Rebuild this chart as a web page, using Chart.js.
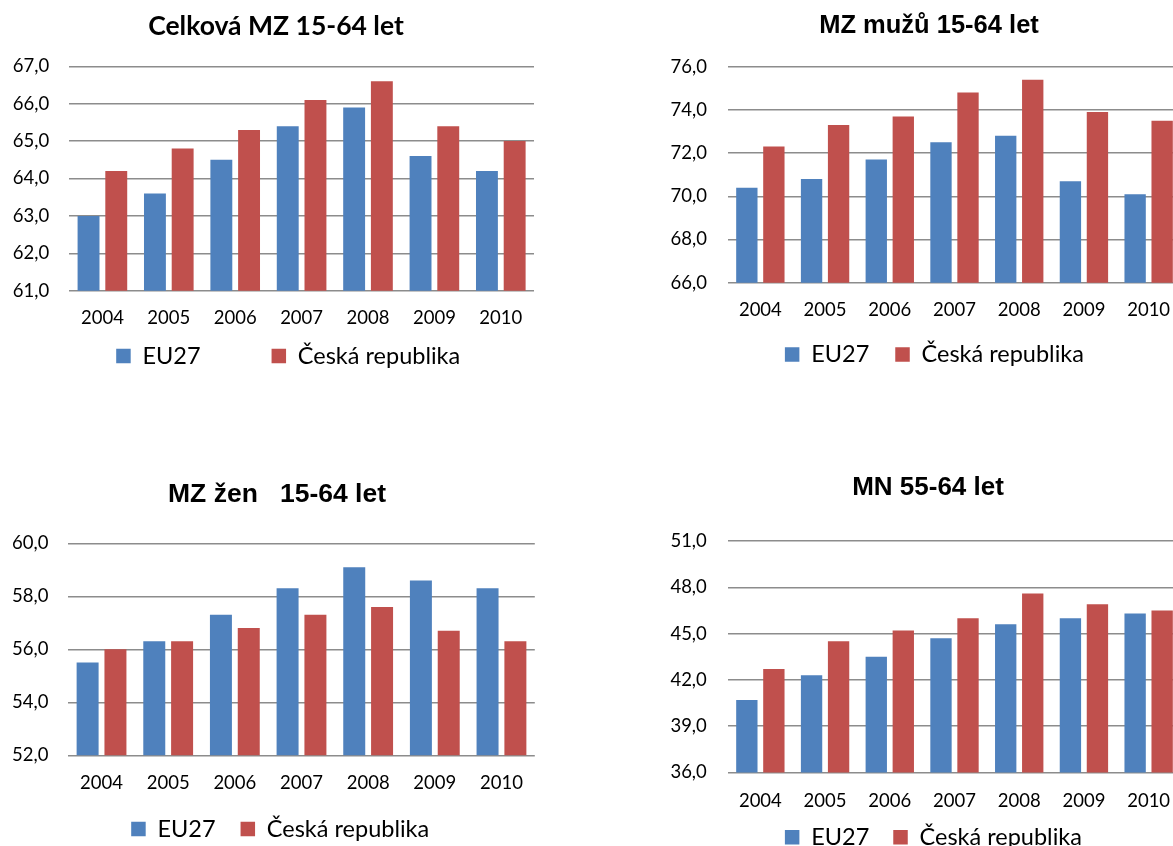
<!DOCTYPE html>
<html>
<head>
<meta charset="utf-8">
<script src="https://cdn.jsdelivr.net/npm/chart.js@4.4.1/dist/chart.umd.min.js"></script>
<style>
    html, body { margin: 0; padding: 0; background: #fff; width: 1173px; height: 846px; overflow: hidden; }
    canvas { position: absolute; }
</style>
</head>
<body>
<canvas id="c1" width="552" height="431" style="left:0px;top:0px"></canvas>
<canvas id="c2" width="540" height="380" style="left:660px;top:0px"></canvas>
<canvas id="c3" width="552" height="392" style="left:0px;top:460px"></canvas>
<canvas id="c4" width="540" height="410" style="left:660px;top:460px"></canvas>
<script>
// Data
const years = ['2004', '2005', '2006', '2007', '2008', '2009', '2010'];
const seriesNames = ['EU27', 'Česká republika'];

const celkovaEU = [63.0, 63.6, 64.5, 65.4, 65.9, 64.6, 64.2];
const celkovaCR = [64.2, 64.8, 65.3, 66.1, 66.6, 65.4, 65.0];

const muziEU = [70.4, 70.8, 71.7, 72.5, 72.8, 70.7, 70.1];
const muziCR = [72.3, 73.3, 73.7, 74.8, 75.4, 73.9, 73.5];

const zenyEU = [55.5, 56.3, 57.3, 58.3, 59.1, 58.6, 58.3];
const zenyCR = [56.0, 56.3, 56.8, 57.3, 57.6, 56.7, 56.3];

const starsiEU = [40.7, 42.3, 43.5, 44.7, 45.6, 46.0, 46.3];
const starsiCR = [42.7, 44.5, 45.2, 46.0, 47.6, 46.9, 46.5];

// y axis: min, max, step
const celkovaAxis = [61, 67, 1];
const muziAxis = [66, 76, 2];
const zenyAxis = [52, 60, 2];
const starsiAxis = [36, 51, 3];

const titles = ['Celková MZ 15-64 let', 'MZ mužů 15-64 let', 'MZ žen   15-64 let', 'MN 55-64 let'];

const blue = '#4F81BD';
const red = '#C0504D';
const gridColor = '#8c8c8c';
const xAxisHeight = 40;

// moves title / legend after layout
const nudge = {
    id: 'nudge',
    afterLayout(chart, args, opts) {
        const t = chart.titleBlock;
        const l = chart.legend;
        if (t && opts.titleDx) {
            t.left += opts.titleDx;
            t.right += opts.titleDx;
        }
        if (l) {
            l.left += opts.legendDx || 0;
            l.right += opts.legendDx || 0;
            l.top += opts.legendDy || 0;
            l.bottom += opts.legendDy || 0;
        }
    }
};

function makeChart(id, cfg) {
    const canvas = document.getElementById(id);
    // legend box takes what is left under the x axis
    const legendHeight = canvas.height - cfg.plotBottom - xAxisHeight;
    return new Chart(canvas.getContext('2d'), {
        type: 'bar',
        data: {
            labels: years,
            datasets: [
                { label: seriesNames[0], data: cfg.eu, backgroundColor: blue, borderWidth: 0 },
                { label: seriesNames[1], data: cfg.cr, backgroundColor: red, borderWidth: 0 }
            ]
        },
        options: {
            responsive: false,
            animation: false,
            devicePixelRatio: 1,
            datasets: { bar: { barPercentage: 0.79, categoryPercentage: 0.835 } },
            layout: { padding: { left: 0, right: cfg.padRight, top: 0, bottom: 0 } },
            scales: {
                x: {
                    grid: { display: false, drawTicks: false },
                    border: { display: false },
                    ticks: { color: '#000', padding: cfg.xPad, font: { family: 'Lato', size: 18.5 } },
                    afterFit: function(scale) { scale.height = xAxisHeight; }
                },
                y: {
                    min: cfg.axis[0],
                    max: cfg.axis[1],
                    grid: { color: gridColor, lineWidth: 1.5, drawTicks: false },
                    border: { display: false },
                    ticks: {
                        stepSize: cfg.axis[2],
                        color: '#000',
                        padding: cfg.yPad,
                        font: { family: 'Lato', size: 18.5 },
                        callback: v => v.toFixed(1).replace('.', ',')
                    },
                    afterFit: function(scale) { scale.width = cfg.yWidth; }
                }
            },
            plugins: {
                title: {
                    display: true,
                    text: cfg.title,
                    color: '#000',
                    font: cfg.titleFont,
                    padding: cfg.titlePad
                },
                legend: {
                    position: 'bottom',
                    maxHeight: legendHeight,
                    labels: {
                        color: '#000',
                        boxWidth: 14.5,
                        boxHeight: 14.5,
                        padding: cfg.legendPad,
                        font: { family: 'Lato', size: 23.5 }
                    }
                },
                tooltip: { enabled: false },
                nudge: { titleDx: cfg.titleDx, legendDx: cfg.legendDx, legendDy: cfg.legendDy }
            }
        },
        plugins: [nudge]
    });
}

makeChart('c1', {
    eu: celkovaEU, cr: celkovaCR, axis: celkovaAxis, title: titles[0],
    titleFont: { family: 'Lato', size: 26.5, weight: 'bold' },
    titlePad: { top: 10.1, bottom: 24.4 },
    plotBottom: 290.7,
    padRight: 18, yWidth: 69.2, yPad: 20, xPad: 16.5,
    legendPad: 71, titleDx: 9, legendDx: 21.2, legendDy: -57.45
});

makeChart('c2', {
    eu: muziEU, cr: muziCR, axis: muziAxis, title: titles[1],
    titleFont: { family: 'Liberation Sans', size: 25.5, weight: 'bold' },
    titlePad: { top: 10.4, bottom: 25.7 },
    plotBottom: 282.7,
    padRight: 19, yWidth: 68, yPad: 21, xPad: 16.2,
    legendPad: 26, titleDx: 8.5, legendDx: 13.9, legendDy: -5.95
});

makeChart('c3', {
    eu: zenyEU, cr: zenyCR, axis: zenyAxis, title: titles[2],
    titleFont: { family: 'Liberation Sans', size: 26.5, weight: 'bold' },
    titlePad: { top: 19.1, bottom: 32.4 },
    plotBottom: 295.3,
    padRight: 17.2, yWidth: 68.2, yPad: 19.7, xPad: 16.9,
    legendPad: 25, titleDx: 9.6, legendDx: 12.8, legendDy: -3.05
});

makeChart('c4', {
    eu: starsiEU, cr: starsiCR, axis: starsiAxis, title: titles[3],
    titleFont: { family: 'Liberation Sans', size: 26, weight: 'bold' },
    titlePad: { top: 11.9, bottom: 37.9 },
    plotBottom: 311.7,
    padRight: 19, yWidth: 68, yPad: 21.2, xPad: 17.2,
    legendPad: 24, titleDx: 7.5, legendDx: 12.9, legendDy: -10.95
});
</script>
</body>
</html>
